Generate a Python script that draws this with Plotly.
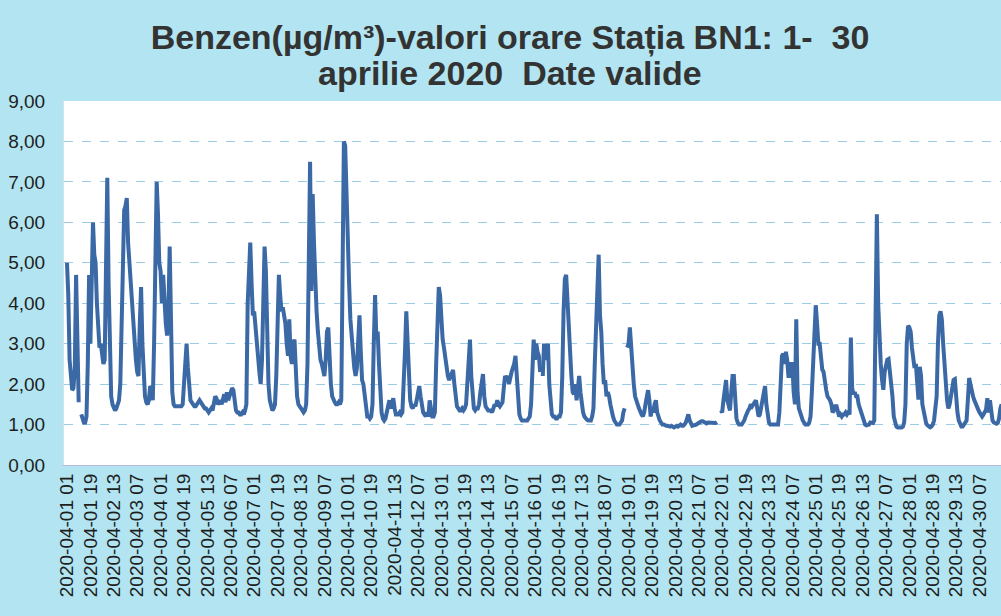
import plotly.graph_objects as go

# ---- data (hourly benzene values, µg/m³), one list per day, hours 01..24 ----
N = None
d01 = [5.0, 4.2, 2.6, 2.1, 1.85, 1.9, 2.4, 4.7, 2.2, 1.55, N, 1.25, 1.1, 1.05, 1.05, 1.2, 2.5, 4.7, 3.0, 4.5, 6.0, 5.2, 5.0, 4.0]
d02 = [3.4, 2.9, 3.0, 2.6, 2.5, 2.6, 5.0, 7.1, 4.5, 2.5, 1.7, 1.5, 1.4, 1.35, 1.4, 1.5, 1.6, 2.0, 3.5, 5.8, 6.3, 6.4, 6.6, 5.5]
d03 = [5.0, 4.5, 3.8, 3.4, 3.0, 2.6, 2.3, 2.2, 3.5, 4.4, 3.0, 2.0, 1.7, 1.55, 1.5, 1.6, 1.95, 1.9, 1.6, 3.0, 5.5, 7.0, 6.2, 5.0]
d04 = [4.8, 4.0, 4.7, 3.9, 3.5, 3.2, 3.8, 5.4, 4.0, 1.8, 1.5, 1.45, 1.45, 1.45, 1.45, 1.45, 1.45, 1.5, 2.1, 2.4, 3.0, 2.4, 1.8, 1.6]
d05 = [1.55, 1.5, 1.45, 1.45, 1.5, 1.55, 1.6, 1.55, 1.5, 1.45, 1.4, 1.4, 1.35, 1.3, 1.35, 1.4, 1.35, 1.5, 1.7, 1.65, 1.5, 1.55, 1.6, 1.5]
d06 = [1.7, 1.75, 1.55, 1.8, 1.6, 1.7, 1.75, 1.9, 1.85, 1.6, 1.35, 1.3, 1.3, 1.25, 1.25, 1.3, 1.25, 1.35, 1.5, 4.0, 4.6, 5.5, 4.5, 3.7]
d07 = [3.8, 3.4, 2.8, 2.5, 2.3, 2.0, 2.6, 4.0, 5.4, 4.8, 3.0, 2.0, 1.6, 1.45, 1.35, 1.4, 1.5, 2.2, 3.8, 4.7, 4.2, 3.8, 3.9, 3.7]
d08 = [3.5, 3.0, 2.7, 3.6, 2.7, 2.5, 3.0, 3.1, 2.0, 1.7, 1.5, 1.45, 1.4, 1.35, 1.3, 1.35, 1.5, 2.5, 5.0, 7.5, 4.3, 6.7, 5.5, 4.3]
d09 = [3.8, 3.3, 2.9, 2.6, 2.5, 2.3, 2.2, 2.6, 3.3, 3.4, 2.5, 2.0, 1.7, 1.6, 1.55, 1.5, 1.5, 1.55, 1.5, 1.6, 6.0, 8.0, 7.9, 6.5]
d10 = [5.3, 4.5, 3.6, 3.3, 2.8, 2.4, 2.2, 2.4, 3.0, 3.7, 2.8, 2.1, 2.0, 1.7, 1.4, 1.2, 1.2, 1.15, 1.2, 1.5, 3.0, 4.2, 3.1, 3.3]
d11 = [2.5, 1.8, 1.3, 1.15, 1.1, 1.15, 1.3, 1.5, 1.6, 1.4, 1.6, 1.65, 1.4, 1.25, 1.25, 1.25, 1.3, 1.25, 1.3, 1.9, 2.8, 3.8, 3.0, 2.0]
d12 = [1.6, 1.45, 1.4, 1.5, 1.45, 1.6, 1.8, 1.95, 1.7, 1.4, 1.3, 1.25, 1.2, 1.3, 1.2, 1.6, 1.3, 1.2, 1.2, 1.3, 2.5, 3.8, 4.4, 4.2]
d13 = [3.6, 3.1, 2.9, 2.6, 2.3, 2.2, 2.1, 2.2, 2.3, 2.35, 2.0, 1.6, 1.45, 1.4, 1.35, 1.35, 1.4, 1.35, 1.4, 1.5, 2.0, 2.8, 3.1, 2.2]
d14 = [1.6, 1.4, 1.35, 1.4, 1.4, 1.5, 1.8, 2.1, 2.25, 1.7, 1.45, 1.4, 1.35, 1.35, 1.35, 1.3, 1.4, 1.5, 1.45, 1.6, 1.5, 1.45, 1.5, 1.55]
d15 = [1.9, 2.2, 2.15, 2.2, 2.0, 2.2, 2.3, 2.4, 2.5, 2.7, 2.2, 1.6, 1.25, 1.15, 1.1, 1.1, 1.1, 1.12, 1.1, 1.15, 1.2, 1.5, 2.5, 3.1]
d16 = [2.6, 3.0, 2.8, 2.7, 2.3, N, 2.2, 3.0, 2.6, 2.9, 3.0, 2.0, 1.4, 1.25, 1.2, 1.2, 1.15, 1.15, 1.2, 1.2, 1.3, 2.2, 3.8, 4.6]
d17 = [4.7, 4.0, 3.2, 2.8, 2.2, 1.8, 1.75, 2.0, 1.6, 1.9, 2.2, 1.8, 1.5, 1.3, 1.2, 1.15, 1.12, 1.1, 1.1, 1.1, 1.2, 1.4, 2.5, 3.7]
d18 = [4.5, 5.2, 3.7, 3.3, 2.5, 2.0, 2.1, 1.7, 1.8, 1.7, 1.5, 1.3, 1.2, 1.1, 1.05, 1.0, 1.0, 1.0, 1.05, 1.1, 1.3, 1.4, N, 2.9]
d19 = [3.0, 3.4, 2.8, 2.4, 2.0, 1.7, 1.55, 1.5, 1.4, 1.3, 1.25, 1.2, 1.3, 1.5, 1.7, 1.85, 1.6, 1.2, 1.4, 1.3, 1.5, 1.6, 1.3, 1.15]
d20 = [1.1, 1.05, 1.0, 1.0, 0.98, 0.97, 0.97, 0.95, 0.95, 0.97, 0.95, 0.93, 0.95, 0.97, 0.95, 0.97, 1.0, 0.97, 0.97, 1.0, 1.05, 1.15, 1.25, 1.1]
d21 = [1.0, 0.97, 0.98, 0.98, 1.0, 1.02, 1.05, 1.07, 1.08, 1.08, 1.06, 1.05, 1.03, 1.05, 1.05, 1.04, 1.03, 1.05, 1.05, 1.04, 1.06, N, N, 1.35]
d22 = [1.3, 1.6, 1.9, 2.1, 1.6, 1.4, 1.35, 1.8, 2.2, 2.2, 1.5, 1.15, 1.05, 1.0, 1.0, 1.0, 1.05, 1.1, 1.2, 1.3, 1.35, 1.4, 1.5, 1.45]
d23 = [1.5, 1.55, 1.6, 1.4, 1.2, 1.25, 1.4, 1.6, 1.8, 1.95, 1.5, 1.2, 1.05, 1.0, 1.0, 1.0, 1.0, 1.0, 0.98, 1.0, 1.3, 1.9, 2.7, 2.75]
d24 = [2.5, 2.8, 2.6, 2.2, 2.2, 2.5, 2.5, 1.8, 1.5, 3.6, 1.8, 1.4, 1.25, 1.2, 1.1, 1.05, 1.0, 1.0, 1.0, 1.05, 1.2, 1.8, 2.5, 3.4]
d25 = [3.95, 3.5, 3.0, 3.0, 2.7, 2.36, 2.3, 2.0, 1.86, 1.7, 1.65, 1.6, 1.5, 1.3, 1.35, 1.45, 1.45, 1.3, 1.2, 1.25, 1.2, 1.25, 1.25, 1.3]
d26 = [1.25, 1.3, 1.25, 3.15, 1.9, 1.75, 1.8, 1.7, 1.7, 1.5, 1.4, 1.28, 1.15, 1.05, 1.0, 0.98, 1.0, 1.0, 1.05, 1.05, 1.04, 1.1, 3.5, 6.2]
d27 = [4.0, 3.0, 2.5, 2.1, 1.86, 2.3, 2.5, 2.6, 2.62, 2.3, 2.2, 1.7, 1.2, 1.0, 0.95, 0.93, 0.92, 0.93, 0.93, 0.95, 1.05, 1.5, 3.0, 3.44]
d28 = [3.4, 3.3, 2.9, 2.5, 2.4, 2.5, 1.8, 1.62, 2.43, 2.2, 1.5, 1.3, 1.1, 1.02, 0.98, 0.95, 0.93, 0.95, 1.0, 1.1, 1.4, 1.7, 3.0, 3.7]
d29 = [3.8, 3.6, 3.0, 2.5, 2.0, 1.6, 1.4, 1.5, 1.7, 1.9, 2.1, 2.12, 1.6, 1.3, 1.1, 1.0, 0.95, 0.95, 1.0, 1.04, 1.1, 1.6, 2.15, 2.0]
d30 = [1.8, 1.7, 1.6, 1.5, 1.4, 1.37, 1.3, 1.25, 1.2, 1.25, 1.3, 1.37, 1.65, 1.3, 1.6, 1.2, 1.1, 1.05, 1.04, 1.02, 1.04, 1.15, 1.4, 1.5]

days = [d01, d02, d03, d04, d05, d06, d07, d08, d09, d10, d11, d12, d13, d14, d15,
        d16, d17, d18, d19, d20, d21, d22, d23, d24, d25, d26, d27, d28, d29, d30]

tick_labels = [
    "2020-04-01 01", "2020-04-01 19", "2020-04-02 13", "2020-04-03 07", "2020-04-04 01",
    "2020-04-04 19", "2020-04-05 13", "2020-04-06 07", "2020-04-07 01", "2020-04-07 19",
    "2020-04-08 13", "2020-04-09 07", "2020-04-10 01", "2020-04-10 19", "2020-04-11 13",
    "2020-04-12 07", "2020-04-13 01", "2020-04-13 19", "2020-04-14 13", "2020-04-15 07",
    "2020-04-16 01", "2020-04-16 19", "2020-04-17 13", "2020-04-18 07", "2020-04-19 01",
    "2020-04-19 19", "2020-04-20 13", "2020-04-21 07", "2020-04-22 01", "2020-04-22 19",
    "2020-04-23 13", "2020-04-24 07", "2020-04-25 01", "2020-04-25 19", "2020-04-26 13",
    "2020-04-27 07", "2020-04-28 01", "2020-04-28 19", "2020-04-29 13", "2020-04-30 07",
]
y_ticks = [0, 1, 2, 3, 4, 5, 6, 7, 8, 9]
y_tick_text = ["0,00", "1,00", "2,00", "3,00", "4,00", "5,00", "6,00", "7,00", "8,00", "9,00"]

title_line1 = "Benzen(µg/m³)-valori orare Stația BN1: 1-\u00a0 30"
title_line2 = "aprilie 2020\u00a0 Date valide"

# ---- build category labels and values ----
categories = []
values = []
for di, day in enumerate(days):
    for hi, v in enumerate(day):
        categories.append(f"2020-04-{di + 1:02d} {hi + 1:02d}")
        values.append(v)

FONT = "Liberation Sans, Arial, sans-serif"
TITLE_FONT = dict(family=FONT, size=34, color="#333333")

M_L, M_R, M_T, M_B = 64, 0, 101, 151
W, H = 1001, 616
plot_w = W - M_L - M_R
plot_h = H - M_T - M_B
title_cx = (510 - M_L) / plot_w  # horizontal centre of the title in paper coords

fig = go.Figure()
fig.add_trace(go.Scatter(
    x=categories, y=values, mode="lines",
    line=dict(color="#3A69A6", width=4),
    connectgaps=False, hoverinfo="skip",
))

fig.update_layout(
    width=W, height=H,
    paper_bgcolor="#B2E5F1", plot_bgcolor="#FFFFFF",
    margin=dict(l=M_L, r=M_R, t=M_T, b=M_B),
    showlegend=False,
    title=dict(
        text=f"<b>{title_line1}</b>",
        x=title_cx, xanchor="center", xref="paper",
        y=1 - 37 / H, yanchor="middle", yref="container",
        font=TITLE_FONT,
    ),
    annotations=[dict(
        text=f"<b>{title_line2}</b>",
        x=title_cx, xref="paper", xanchor="center",
        y=1 + (M_T - 73) / plot_h, yref="paper", yanchor="middle",
        showarrow=False, font=TITLE_FONT,
    )],
)

fig.update_xaxes(
    type="category",
    categoryorder="array", categoryarray=categories,
    range=[-2.3, 718.5],
    tickmode="array", tickvals=tick_labels, ticktext=tick_labels,
    tickangle=-90,
    tickfont=dict(family=FONT, size=19, color="#1E1E1E"),
    showgrid=False, zeroline=False,
    showline=True, linecolor="#B8B8D8", linewidth=1,
    ticks="", automargin=False,
)
fig.update_yaxes(
    range=[0, 9],
    tickmode="array", tickvals=y_ticks, ticktext=y_tick_text,
    tickfont=dict(family=FONT, size=19, color="#1E1E1E"),
    showgrid=True, gridcolor="#9CCDE6", griddash="dash", gridwidth=1,
    zeroline=False,
    showline=True, linecolor="#D0E4EC", linewidth=1,
    ticks="outside", ticklen=4, tickcolor="#C8DCE4",
    ticklabelstandoff=10, automargin=False,
)

fig.write_html(
    "out.html",
    config={"displayModeBar": False},
    post_script="document.body.style.margin='0';document.body.style.overflow='hidden';",
)
